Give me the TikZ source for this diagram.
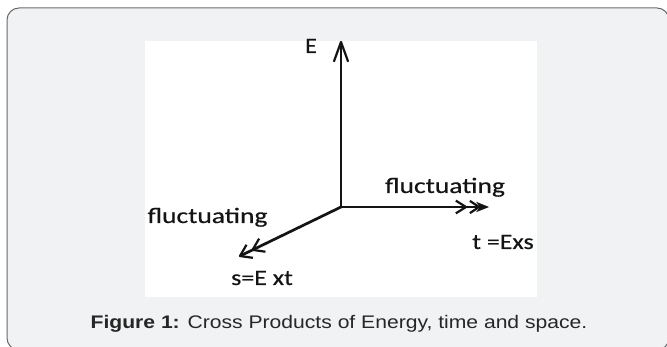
\documentclass[tikz,border=0pt]{standalone}
\usepackage{fontspec}
\usepackage{graphicx}
\usetikzlibrary{calc}
\newfontfamily\labfont[FakeBold=0.4]{Carlito}
\newfontfamily\capfont{Liberation Sans}
\definecolor{bggray}{HTML}{F1F2F4}
\definecolor{bordergray}{HTML}{6A6A6A}
\definecolor{inkc}{HTML}{141414}
\definecolor{capc}{HTML}{262626}
\begin{document}
\begin{tikzpicture}[x=1pt,y=-1pt,
  lab/.style={inner sep=0pt, anchor=base, text=inkc, font=\labfont\fontsize{22}{24}\selectfont},
  axis/.style={draw=inkc, line width=2.7pt},
  barb/.style={draw=inkc, line width=2.2pt, line join=round}]
\useasboundingbox (0,0) rectangle (667,347);
\draw[rounded corners=12pt, fill=bggray, draw=bordergray, line width=1pt] (7,8) rectangle (669,350);
\fill[white] (145,41) rectangle (537,297);
\coordinate (O) at (341,207);
\coordinate (Etop) at (341,42);
\coordinate (Tend) at (489,207);
\coordinate (Send) at (240,256);
% axes
\draw[axis] (O) -- ($(Etop)!1pt!(O)$);
\draw[axis] (O) -- ($(Tend)!2pt!(O)$);
\draw[axis] (O) -- ($(Send)!1.5pt!(O)$);
% E arrowhead
\draw[barb] ($(Etop)!21pt!20:(O)$) -- (Etop) -- ($(Etop)!21pt!-20:(O)$);
% t arrowheads
\coordinate (T1) at ($(Tend)!23pt!(O)$);
\coordinate (T2) at ($(Tend)!10pt!(O)$);
\draw[barb] ($(T1)!12pt!32:(O)$) -- (T1) -- ($(T1)!12pt!-32:(O)$);
\draw[barb] ($(T2)!11pt!34:(O)$) -- (T2) -- ($(T2)!11pt!-34:(O)$);
\fill[inkc] (Tend) -- ($(Tend)!14pt!22:(O)$) -- ($(Tend)!9pt!(O)$) -- ($(Tend)!14pt!-22:(O)$) -- cycle;
% s arrowheads
\coordinate (S2) at ($(Send)!14pt!(O)$);
\draw[barb] ($(Send)!13pt!34:(O)$) -- (Send) -- ($(Send)!13pt!-34:(O)$);
\draw[barb] ($(S2)!13pt!34:(O)$) -- (S2) -- ($(S2)!13pt!-34:(O)$);
% labels
\node[lab] (Elab) at (311,53) {\scalebox{1.1}[1]{E}};
\node[lab] (flucR) at (445,193) {\scalebox{1.25}[1]{fluctuating}};
\node[lab] (flucL) at (207.5,223) {\scalebox{1.25}[1]{fluctuating}};
\node[lab] (tlab) at (503,249) {\scalebox{1.18}[1]{t =Exs}};
\node[lab] (slab) at (262,285) {\scalebox{1.18}[1]{s=E xt}};
\node[inner sep=0pt, anchor=base, text=capc] (cap) at (339,329) {\scalebox{1.16}[1]{\capfont\fontsize{18.2}{20}\selectfont\textbf{Figure 1:} Cross Products of Energy, time and space.}};
\end{tikzpicture}
\end{document}
